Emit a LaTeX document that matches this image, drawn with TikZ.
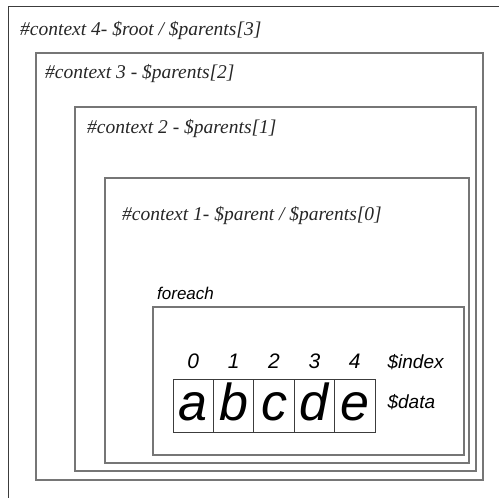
\documentclass[tikz,border=0pt]{standalone}
\usepackage{fontspec}
\setmainfont{Liberation Serif}
\setsansfont{Liberation Sans}
\usetikzlibrary{positioning}
\newcommand{\cw}{40.4}
\definecolor{grisbord}{RGB}{118,118,118}
\definecolor{grisfonce}{RGB}{60,60,60}
\tikzstyle{cadre}=[draw=grisbord, line width=1.6pt]
\tikzstyle{titre}=[anchor=base west, inner sep=0pt, text=black!85, font=\itshape\fontsize{19.5}{19.5}\selectfont]
\tikzstyle{cellule}=[draw=grisfonce, line width=0.8pt, minimum width=\cw pt, text height=41pt, text depth=12pt, inner sep=0pt, font=\sffamily\itshape\fontsize{52}{52}\selectfont]
\tikzstyle{indice}=[inner sep=0pt, font=\sffamily\itshape\fontsize{21}{21}\selectfont]
\tikzstyle{etiquette}=[inner sep=0pt, anchor=west, font=\sffamily\itshape\fontsize{19}{19}\selectfont]

\begin{document}
\begin{tikzpicture}[x=1pt,y=-1pt]
\useasboundingbox (0,0) rectangle (499,498);

% contextes imbriques
\draw[line width=1pt, grisfonce] (8,498) -- (8,6) -- (499,6);
\draw[cadre] (36,53) rectangle (483,480);
\draw[cadre] (75,107) rectangle (476,471);
\draw[cadre] (105,178) rectangle (469,463);
\draw[cadre] (153,307) rectangle (464,455);

\node[titre] (ctx4) at (20,35) {\#context 4- \$root / \$parents[3]};
\node[titre] (ctx3) at (45,78) {\#context 3 - \$parents[2]};
\node[titre] (ctx2) at (87,133) {\#context 2 - \$parents[1]};
\node[titre] (ctx1) at (122,220) {\#context 1- \$parent / \$parents[0]};
\node[etiquette, anchor=base west, font=\sffamily\itshape\fontsize{17}{17}\selectfont] (boucle) at (157,299.5) {foreach};

% tableau
\foreach \i/\l in {0/a,1/b,2/c,3/d,4/e}
{
\node[cellule] (cell\i) at ({173+\cw/2+\i*\cw},406) {\l};
\node[indice, above=10pt of cell\i] (idx\i) {\i};
}

\node[etiquette] (data) at ([xshift=12pt,yshift=4pt]cell4.east) {\$data};
\node[etiquette] (index) at (data.west |- idx4) {\$index};

\end{tikzpicture}
\end{document}
